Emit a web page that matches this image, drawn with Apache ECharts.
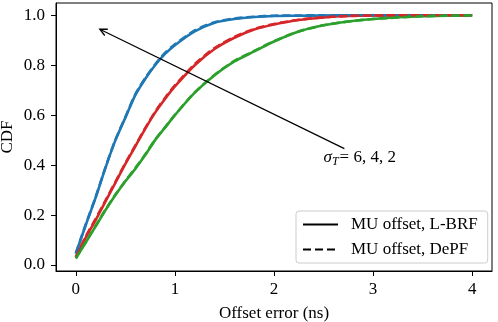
<!DOCTYPE html>
<html>
<head>
<meta charset="utf-8">
<script src="https://cdn.jsdelivr.net/npm/echarts@6/dist/echarts.min.js"></script>
<style>
  html, body { margin: 0; padding: 0; background: #fff; }
  #main { width: 498px; height: 322px; }
</style>
</head>
<body>
<div id="main"></div>
<script>
// offset error grid (ns)
var xs = [0, 0.1, 0.2, 0.3, 0.4, 0.5, 0.6, 0.7, 0.8, 0.9, 1.0, 1.2, 1.4, 1.6, 1.8, 2.0, 2.25, 2.5, 2.75, 3.0, 3.5, 4.0];

// CDF values, solid = L-BRF, dashed = DePF
var blueSolid  = [0.045, 0.16, 0.27, 0.39, 0.50, 0.59, 0.68, 0.745, 0.80, 0.845, 0.88, 0.935, 0.97, 0.985, 0.993, 0.997, 0.998, 0.999, 1.0, 1.0, 1.0, 1.0];
var blueDash   = [0.047, 0.162, 0.272, 0.392, 0.502, 0.592, 0.683, 0.748, 0.803, 0.849, 0.884, 0.939, 0.972, 0.987, 0.994, 0.998, 0.999, 1.0, 1.0, 1.0, 1.0, 1.0];
var redSolid   = [0.033, 0.11, 0.18, 0.255, 0.33, 0.405, 0.475, 0.545, 0.61, 0.665, 0.715, 0.80, 0.865, 0.91, 0.943, 0.963, 0.981, 0.991, 0.997, 0.999, 1.0, 1.0];
var redDash    = [0.031, 0.114, 0.185, 0.259, 0.333, 0.408, 0.478, 0.548, 0.613, 0.669, 0.719, 0.804, 0.869, 0.913, 0.945, 0.965, 0.982, 0.992, 0.997, 0.999, 1.0, 1.0];
var greenSolid = [0.027, 0.09, 0.155, 0.22, 0.28, 0.335, 0.385, 0.44, 0.50, 0.55, 0.60, 0.69, 0.76, 0.815, 0.855, 0.895, 0.935, 0.96, 0.975, 0.985, 0.996, 1.0];
var greenDash  = [0.026, 0.092, 0.157, 0.222, 0.282, 0.337, 0.388, 0.442, 0.502, 0.551, 0.601, 0.691, 0.761, 0.817, 0.857, 0.896, 0.935, 0.96, 0.975, 0.985, 0.996, 1.0];

var xTicks = [0, 1, 2, 3, 4];
var yTicks = [0, 0.2, 0.4, 0.6, 0.8, 1.0];

// arrow: tail x, tail y, tip x, tip y ; label anchor
var arrow = [2.71, 0.466, 0.242, 0.944];
var labelPos = [2.5, 0.43];

var FONT = 'Liberation Serif';
var FS = 17;
var colors = ['#1f77b4', '#d62728', '#2ca02c'];

function pairs(ys) {
  return xs.map(function (x, i) { return [x, ys[i]]; });
}

function curve(name, ys, color, dashed) {
  return {
    name: name,
    type: 'line',
    data: pairs(ys),
    showSymbol: false,
    symbol: 'none',
    smooth: 0.25,
    silent: true,
    lineStyle: { color: color, width: 2.6, type: dashed ? [8, 4] : 'solid' },
    z: dashed ? 3 : 2
  };
}

var myChart = echarts.init(document.getElementById('main'));
var option = {
  animation: false,
  textStyle: { fontFamily: FONT },
  grid: { left: 56, top: 3, right: 6, bottom: 51, outerBoundsMode: 'none', containLabel: false,
    show: true, borderColor: '#000', borderWidth: 1, backgroundColor: 'transparent' },
  legend: {
    orient: 'vertical',
    left: 296, top: 211,
    padding: [5, 10, 5, 6],
    itemWidth: 35, itemHeight: 16, itemGap: 8,
    backgroundColor: 'rgba(255,255,255,0.8)',
    borderColor: '#ccc', borderWidth: 1, borderRadius: 3,
    itemStyle: { opacity: 0 },
    textStyle: { fontFamily: FONT, fontSize: FS, color: '#000', padding: [0, 0, 0, 8] },
    data: ['MU offset, L-BRF', 'MU offset, DePF']
  },
  xAxis: {
    type: 'value', min: -0.2, max: 4.2,
    name: 'Offset error (ns)', nameLocation: 'middle', nameGap: 34, nameMoveOverlap: false,
    nameTextStyle: { fontFamily: FONT, fontSize: FS, color: '#000' },
    axisLine: { show: true, onZero: false, lineStyle: { color: '#000', width: 1 } },
    axisTick: { show: true, length: 5, lineStyle: { color: '#000' }, customValues: xTicks },
    axisLabel: { fontFamily: FONT, fontSize: FS, color: '#000', margin: 10, customValues: xTicks },
    splitLine: { show: false }
  },
  yAxis: {
    type: 'value', min: -0.024, max: 1.049,
    name: 'CDF', nameLocation: 'middle', nameGap: 40, nameMoveOverlap: false,
    nameTextStyle: { fontFamily: FONT, fontSize: FS, color: '#000' },
    axisLine: { show: true, onZero: false, lineStyle: { color: '#000', width: 1 } },
    axisTick: { show: true, length: 5, lineStyle: { color: '#000' }, customValues: yTicks },
    axisLabel: { fontFamily: FONT, fontSize: FS, color: '#000', margin: 11, customValues: yTicks,
      formatter: function (v) { return v.toFixed(1); } },
    splitLine: { show: false }
  },
  series: [
    curve('b1', blueSolid, colors[0], false),
    curve('b2', blueDash, colors[0], true),
    curve('r1', redSolid, colors[1], false),
    curve('r2', redDash, colors[1], true),
    curve('g1', greenSolid, colors[2], false),
    curve('g2', greenDash, colors[2], true),
    // legend-only entries
    { name: 'MU offset, L-BRF', type: 'line', data: [], symbol: 'none', lineStyle: { color: '#000', width: 2.6 }, itemStyle: { color: '#000' } },
    { name: 'MU offset, DePF', type: 'line', data: [], symbol: 'none', lineStyle: { color: '#000', width: 2.6, type: [8, 4] }, itemStyle: { color: '#000' } },
    {
      type: 'custom',
      silent: true,
      z: 5,
      data: [arrow.concat(labelPos)],
      renderItem: function (params, api) {
        var p0 = api.coord([api.value(0), api.value(1)]);
        var p1 = api.coord([api.value(2), api.value(3)]);
        var pt = api.coord([api.value(4), api.value(5)]);
        var ang = Math.atan2(p0[1] - p1[1], p0[0] - p1[0]);
        var L = 8, a = 0.45;
        var h1 = [p1[0] + L * Math.cos(ang + a), p1[1] + L * Math.sin(ang + a)];
        var h2 = [p1[0] + L * Math.cos(ang - a), p1[1] + L * Math.sin(ang - a)];
        return {
          type: 'group',
          children: [
            { type: 'line', shape: { x1: p0[0], y1: p0[1], x2: p1[0], y2: p1[1] }, style: { stroke: '#000', lineWidth: 1.3 } },
            { type: 'polyline', shape: { points: [h1, p1, h2] }, style: { stroke: '#000', lineWidth: 1.3, fill: null } },
            { type: 'text', x: pt[0], y: pt[1], style: {
                text: '{s|σ}{t|T}{e|= 6, 4, 2}',
                verticalAlign: 'middle', align: 'left',
                rich: {
                  s: { fontFamily: FONT, fontSize: FS, fontStyle: 'italic', fill: '#000' },
                  t: { fontFamily: FONT, fontSize: 12, fontStyle: 'italic', fill: '#000', verticalAlign: 'bottom', padding: [9, 1, 0, 0] },
                  e: { fontFamily: FONT, fontSize: FS, fill: '#000' }
                }
            } }
          ]
        };
      }
    }
  ]
};
myChart.setOption(option);
</script>
</body>
</html>
